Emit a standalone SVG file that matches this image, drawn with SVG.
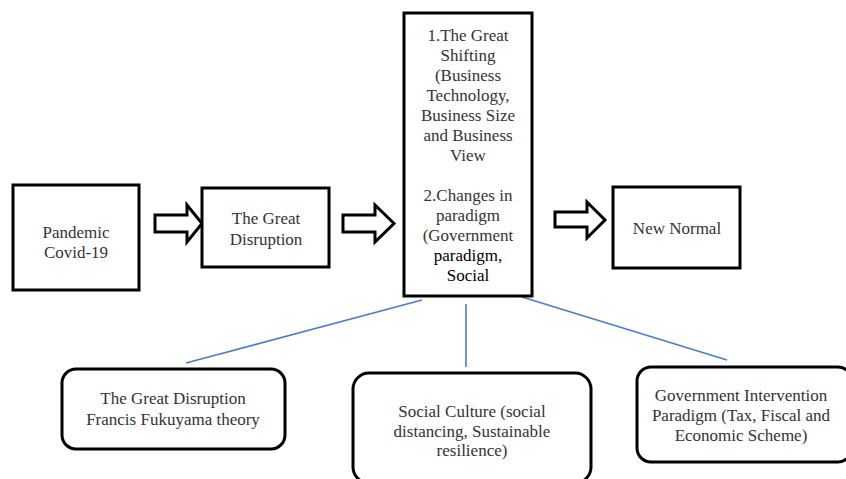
<svg xmlns="http://www.w3.org/2000/svg" width="846" height="479" viewBox="0 0 846 479">
<style>
.box{fill:#fff;stroke:#000;stroke-width:3}
.arrow{fill:#fff;stroke:#000;stroke-width:3;stroke-linejoin:miter}
.t{fill:#333;text-anchor:middle}
.dk{fill:#000}
.conn{stroke:#4a7ec4;stroke-width:1.6;fill:none}
</style>
<rect width="846" height="479" fill="#fff"/>
<g id="connectors">
<line class="conn" x1="422" y1="300" x2="186" y2="363"/>
<line class="conn" x1="466" y1="304" x2="466" y2="367"/>
<line class="conn" x1="522" y1="297" x2="727" y2="360"/>
</g>
<g id="arrows">
<polygon class="arrow" points="155,215 187,215 187,205 202,223.5 187,242 187,232 155,232"/>
<polygon class="arrow" points="343,215 375,215 375,205 394,223.5 375,242 375,232 343,232"/>
<polygon class="arrow" points="555,212 587,212 587,202 605,220 587,238 587,227 555,227"/>
</g>
<g font-family="Liberation Serif" font-size="17">
<g id="pandemic">
<rect class="box" x="13" y="185" width="126" height="105"/>
<text class="t" x="76" y="238">Pandemic</text>
<text class="t" x="76" y="258">Covid-19</text>
</g>
<g id="great-disruption">
<rect class="box" x="202" y="188" width="127" height="79"/>
<text class="t" x="266" y="224">The Great</text>
<text class="t" x="266" y="245">Disruption</text>
</g>
<g id="shifting">
<rect class="box" x="404" y="13" width="128" height="283"/>
<text class="t" x="468" y="41">1.The Great</text>
<text class="t" x="468" y="61">Shifting</text>
<text class="t" x="468" y="81">(Business</text>
<text class="t" x="468" y="101">Technology,</text>
<text class="t" x="468" y="121">Business Size</text>
<text class="t" x="468" y="141">and Business</text>
<text class="t" x="468" y="161">View</text>
<text class="t" x="468" y="201">2.Changes in</text>
<text class="t" x="468" y="221">paradigm</text>
<text class="t" x="468" y="241">(Government</text>
<text class="t dk" x="468" y="261">paradigm,</text>
<text class="t dk" x="468" y="281">Social</text>
</g>
<g id="new-normal">
<rect class="box" x="613" y="187" width="127" height="81"/>
<text class="t" x="677" y="234">New Normal</text>
</g>
<g id="fukuyama">
<rect class="box" x="62" y="369" width="223" height="80" rx="14"/>
<text class="t" x="173" y="404">The Great Disruption</text>
<text class="t" x="173" y="425">Francis Fukuyama theory</text>
</g>
<g id="social-culture">
<rect class="box" x="353" y="373" width="238" height="110" rx="16"/>
<text class="t" x="472" y="417">Social Culture (social</text>
<text class="t" x="472" y="437">distancing, Sustainable</text>
<text class="t" x="472" y="456">resilience)</text>
</g>
<g id="government">
<rect class="box" x="637" y="367" width="215" height="95" rx="14"/>
<text class="t" x="741" y="401">Government Intervention</text>
<text class="t" x="741" y="421">Paradigm (Tax, Fiscal and</text>
<text class="t" x="741" y="441">Economic Scheme)</text>
</g>
</g>
</svg>
